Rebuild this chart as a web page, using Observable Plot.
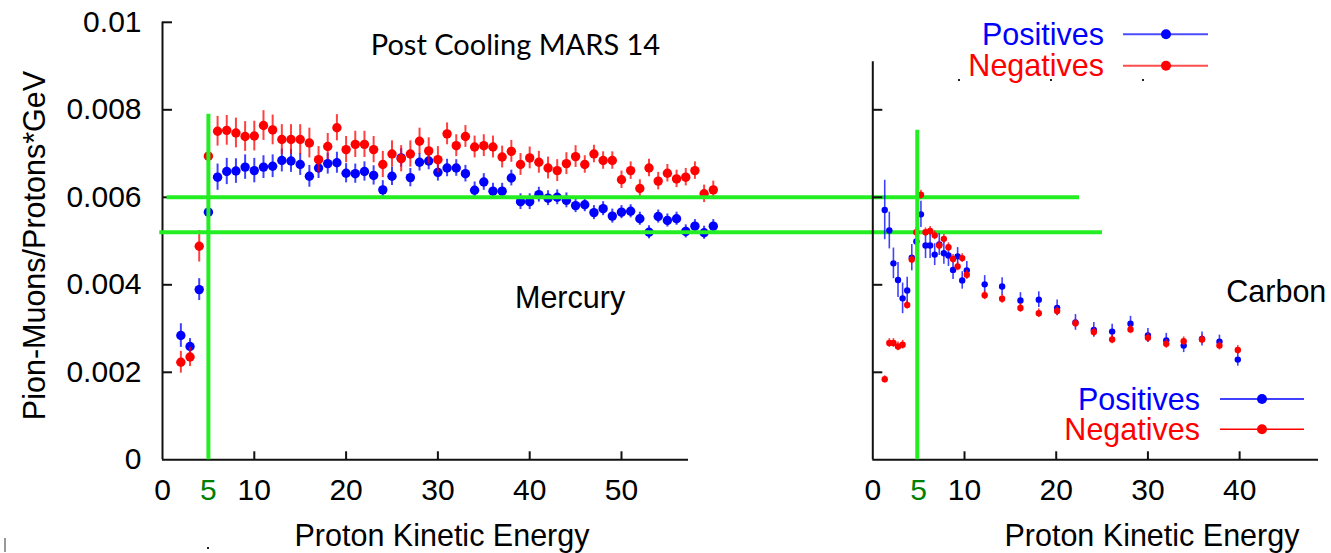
<!DOCTYPE html>
<html>
<head>
<meta charset="utf-8">
<script src="https://cdn.jsdelivr.net/npm/d3@7"></script>
<script src="https://cdn.jsdelivr.net/npm/@observablehq/plot@0.6"></script>
<style>
  html, body { margin: 0; padding: 0; background: #fff; }
  #chart { position: relative; width: 1331px; height: 553px; overflow: hidden; }
  #chart svg { position: absolute; left: 0; top: 0; }
</style>
</head>
<body>
<div id="chart"></div>
<script>
// ---- Mercury target: proton kinetic energy (GeV) and yields ----
const hgEnergy = [2,3,4,5,6,7,8,9,10,11,12,13,14,15,16,17,18,19,20,21,22,23,24,25,26,27,28,29,30,
  31,32,33,34,35,36,37,38,39,40,41,42,43,44,45,46,47,48,49,50,51,52,53,54,55,56,57,58,59,60];
const hgPositives = [0.00284,0.00259,0.00389,0.00566,0.00646,0.00659,0.00660,0.00669,0.00661,0.00669,
  0.00671,0.00684,0.00683,0.00675,0.00648,0.00667,0.00677,0.00679,0.00655,0.00654,0.00659,0.00650,
  0.00617,0.00648,0.00690,0.00645,0.00680,0.00683,0.00657,0.00667,0.00667,0.00654,0.00616,0.00635,
  0.00614,0.00614,0.00644,0.00590,0.00590,0.00606,0.00598,0.00600,0.00593,0.00581,0.00583,0.00565,
  0.00574,0.00557,0.00566,0.00568,0.00551,0.00520,0.00556,0.00547,0.00551,0.00522,0.00534,0.00519,0.00534];
const hgPositivesErr = [0.00027,0.00018,0.00025,0.00028,0.00030,0.00030,0.00028,0.00028,0.00028,0.00026,
  0.00026,0.00026,0.00026,0.00025,0.00025,0.00024,0.00024,0.00024,0.00022,0.00022,0.00022,0.00022,
  0.00021,0.00021,0.00021,0.00021,0.00020,0.00020,0.00020,0.00020,0.00019,0.00019,0.00019,0.00019,
  0.00018,0.00018,0.00018,0.00018,0.00018,0.00017,0.00017,0.00017,0.00017,0.00016,0.00016,0.00016,
  0.00016,0.00016,0.00015,0.00015,0.00015,0.00015,0.00015,0.00015,0.00015,0.00015,0.00015,0.00015,0.00015];
const hgNegatives = [0.00223,0.00235,0.00488,0.00694,0.00751,0.00753,0.00747,0.00739,0.00740,0.00764,
  0.00754,0.00732,0.00732,0.00732,0.00724,0.00686,0.00716,0.00759,0.00709,0.00721,0.00721,0.00709,
  0.00675,0.00699,0.00688,0.00699,0.00728,0.00706,0.00686,0.00745,0.00718,0.00739,0.00715,0.00718,
  0.00715,0.00692,0.00705,0.00675,0.00690,0.00680,0.00667,0.00661,0.00677,0.00693,0.00675,0.00699,
  0.00684,0.00684,0.00640,0.00661,0.00620,0.00667,0.00637,0.00655,0.00642,0.00646,0.00661,0.00608,0.00617];
const hgNegativesErr = [0.00025,0.00022,0.00036,0.00036,0.00034,0.00034,0.00034,0.00034,0.00034,0.00034,
  0.00034,0.00034,0.00034,0.00034,0.00034,0.00030,0.00030,0.00030,0.00030,0.00030,0.00030,0.00030,
  0.00030,0.00030,0.00030,0.00030,0.00030,0.00030,0.00030,0.00025,0.00025,0.00025,0.00025,0.00025,
  0.00025,0.00025,0.00025,0.00025,0.00025,0.00025,0.00025,0.00025,0.00025,0.00025,0.00020,0.00020,
  0.00020,0.00020,0.00020,0.00020,0.00020,0.00020,0.00020,0.00020,0.00020,0.00020,0.00020,0.00020,0.00020];

// ---- Carbon target ----
const cEnergy = [1.3,1.8,2.25,2.75,3.25,3.75,4.25,4.75,5.25,5.75,6.25,6.75,7.25,7.75,8.25,8.75,9.25,9.75,10.25,
  12.2,14.1,16.1,18.1,20.1,22.1,24.1,26.1,28.1,30.0,32.0,33.9,35.9,37.8,39.8];
const cPositives = [0.00571,0.00524,0.00449,0.00411,0.00369,0.00387,0.00462,0.00499,0.00561,0.00490,
  0.00490,0.00469,0.00492,0.00472,0.00467,0.00434,0.00465,0.00410,0.00433,
  0.00401,0.00396,0.00364,0.00366,0.00347,0.00314,0.00297,0.00293,0.00311,0.00284,0.00273,0.00261,
  0.00276,0.00270,0.00229];
const cPositivesErr = [0.00068,0.00042,0.00035,0.00040,0.00035,0.00030,0.00030,0.00030,0.00030,0.00030,
  0.00030,0.00025,0.00025,0.00025,0.00025,0.00022,0.00020,0.00020,0.00020,
  0.00020,0.00020,0.00018,0.00018,0.00018,0.00018,0.00017,0.00017,0.00017,0.00016,0.00016,0.00016,
  0.00016,0.00015,0.00015];
const cNegatives = [0.00184,0.00267,0.00267,0.00259,0.00263,0.00354,0.00458,0.00520,0.00606,0.00520,
  0.00523,0.00513,0.00490,0.00505,0.00486,0.00459,0.00442,0.00461,0.00423,
  0.00376,0.00368,0.00347,0.00335,0.00340,0.00312,0.00292,0.00275,0.00298,0.00279,0.00265,0.00271,
  0.00275,0.00261,0.00251];
const cNegativesErr = [0.00008,0.00010,0.00010,0.00010,0.00010,0.00010,0.00010,0.00010,0.00010,0.00010,
  0.00010,0.00010,0.00010,0.00010,0.00010,0.00010,0.00010,0.00010,0.00010,
  0.00010,0.00010,0.00010,0.00010,0.00010,0.00010,0.00010,0.00010,0.00010,0.00010,0.00010,0.00010,
  0.00010,0.00010,0.00010];

// ---- axes ----
const yTicks = [0, 0.002, 0.004, 0.006, 0.008, 0.01];
const yTickLabels = ["0", "0.002", "0.004", "0.006", "0.008", "0.01"];
const hgXTicks = [10, 20, 30, 40, 50];
const hgXLabels = ["10", "20", "30", "40", "50"];
const cXTicks = [10, 20, 30, 40];
const cXLabels = ["10", "20", "30", "40"];

// reference guides: energy cut at 5 GeV and yield levels
const guideEnergy = 5;
const guideLevels = [0.006, 0.0052];

const BLUE = "#0000ff", RED = "#ff0000", GUIDE = "#22ee22", DKGREEN = "#008000", AXIS = "#111";
const FONT = "'Liberation Sans', Arial, sans-serif";
const W = 1331, H = 553;
const frameTop = 21.8, frameBottom = 459.3;
const frameH = frameBottom - frameTop;
const TICK_FS = 30, TITLE_FS = 30.5;

const rows = (e, v, err) => e.map((x, i) => ({x, y: v[i], lo: v[i] - err[i], hi: v[i] + err[i]}));

function panel({left, right, xMax, pos, neg, r, barW, xTicks, xLabels, yAxisTop, guideX, guideTop, extra}) {
  const frameW = right - left;
  return Plot.plot({
    width: W, height: H,
    marginLeft: left, marginRight: W - right, marginTop: frameTop, marginBottom: H - frameBottom,
    x: {domain: [0, xMax], axis: null},
    y: {domain: [0, 0.01], axis: null},
    style: {background: "transparent", fontFamily: FONT, overflow: "visible"},
    marks: [
      Plot.ruleX(pos, {x: "x", y1: "lo", y2: "hi", stroke: BLUE, strokeWidth: barW, strokeOpacity: 0.75}),
      Plot.dot(pos, {x: "x", y: "y", r, fill: BLUE}),
      Plot.ruleX(neg, {x: "x", y1: "lo", y2: "hi", stroke: RED, strokeWidth: barW, strokeOpacity: 0.75}),
      Plot.dot(neg, {x: "x", y: "y", r, fill: RED}),
      // frame lines and inward ticks
      Plot.ruleX([0], {y1: 0, y2: yAxisTop, stroke: AXIS, strokeWidth: 2}),
      Plot.ruleY([0], {stroke: AXIS, strokeWidth: 2}),
      Plot.tickY(yTicks.filter(d => d > 0 && d <= yAxisTop), {y: d => d, insetRight: frameW - 10, stroke: AXIS, strokeWidth: 2}),
      Plot.tickX(xTicks, {x: d => d, insetTop: frameH - 8, stroke: AXIS, strokeWidth: 2}),
      // tick labels
      Plot.text([0, ...xTicks], {x: d => d, text: ["0", ...xLabels], frameAnchor: "bottom", dy: 40.5, fontSize: TICK_FS}),
      Plot.text([guideEnergy], {x: d => d, text: ["5"], frameAnchor: "bottom", dy: 40.5, fontSize: TICK_FS, fill: DKGREEN}),
      Plot.text(["Proton Kinetic Energy"], {frameAnchor: "bottom", dx: extra.titleDx, dy: 86, fontSize: TITLE_FS}),
      ...extra.marks,
      // guides
      Plot.ruleX([guideX], {y1: 0, y2: guideTop, stroke: GUIDE, strokeWidth: 4})
    ]
  });
}

const mercury = panel({
  left: 162, right: 688, xMax: 57.3,
  pos: rows(hgEnergy, hgPositives, hgPositivesErr),
  neg: rows(hgEnergy, hgNegatives, hgNegativesErr),
  r: 4.7, barW: 2, xTicks: hgXTicks, xLabels: hgXLabels, yAxisTop: 0.01,
  guideX: guideEnergy, guideTop: 0.0079,
  extra: {
    titleDx: 16.5,
    marks: [
      Plot.text(yTicks, {y: d => d, text: yTickLabels, frameAnchor: "left", dx: -21, textAnchor: "end", fontSize: TICK_FS}),
      Plot.text(["Pion-Muons/Protons*GeV"], {frameAnchor: "left", textAnchor: "middle", dx: -127, dy: 4.5, rotate: -90, fontSize: TITLE_FS}),
      Plot.text([{x: 38.45, y: 0.00947}], {x: "x", y: "y", text: () => "Post Cooling MARS 14", fontSize: 29, fontFamily: "Lato, 'Open Sans', sans-serif"}),
      Plot.text([{x: 44.4, y: 0.00369}], {x: "x", y: "y", text: () => "Mercury", fontSize: TITLE_FS}),
      Plot.ruleY([{y: guideLevels[0], x1: 0.5, x2: 99.9}], {y: "y", x1: "x1", x2: "x2", stroke: GUIDE, strokeWidth: 4}),
      Plot.ruleY([{y: guideLevels[1], x1: -0.3, x2: 102.4}], {y: "y", x1: "x1", x2: "x2", stroke: GUIDE, strokeWidth: 4})
    ]
  }
});

const carbon = panel({
  left: 872.3, right: 1318, xMax: 48.6,
  pos: rows(cEnergy, cPositives, cPositivesErr),
  neg: rows(cEnergy, cNegatives, cNegativesErr),
  r: 3.2, barW: 1.6, xTicks: cXTicks, xLabels: cXLabels, yAxisTop: 0.0091,
  guideX: 4.85, guideTop: 0.00753,
  extra: {
    titleDx: 56.3,
    marks: [
      Plot.text([{x: 44.0, y: 0.00382}], {x: "x", y: "y", text: () => "Carbon", fontSize: TITLE_FS})
    ]
  }
});

const chart = document.getElementById("chart");
chart.append(mercury, carbon);

// ---- series keys ----
const keys = [
  {label: "Positives", color: BLUE},
  {label: "Negatives", color: RED}
];
const legendBlocks = [
  {textEnd: 1104, x1: 1123, x2: 1208, dot: 1166, ys: [34.3, 65.7], width: 2, opacity: 0.7},
  {textEnd: 1200, x1: 1220, x2: 1304, dot: 1262, ys: [399, 429.3], width: 1.5, opacity: 1}
];
const overlay = d3.create("svg").attr("width", W).attr("height", H).style("font-family", FONT);
for (const b of legendBlocks) {
  keys.forEach((k, i) => {
    const g = overlay.append("g");
    g.append("text").attr("x", b.textEnd).attr("y", b.ys[i]).attr("dy", "0.35em")
      .attr("text-anchor", "end").attr("font-size", 30.5).attr("fill", k.color).text(k.label);
    g.append("line").attr("x1", b.x1).attr("x2", b.x2).attr("y1", b.ys[i]).attr("y2", b.ys[i])
      .attr("stroke", k.color).attr("stroke-width", b.width).attr("stroke-opacity", b.opacity);
    g.append("circle").attr("cx", b.dot).attr("cy", b.ys[i]).attr("r", 5).attr("fill", k.color);
  });
}
// stray printer marks along the edges
overlay.append("line").attr("x1", 5).attr("x2", 5).attr("y1", 538).attr("y2", 552).attr("stroke", "#333").attr("stroke-width", 1);
for (const [x, y] of [[208, 548], [959, 80], [1051, 80], [1143, 80]]) {
  overlay.append("rect").attr("x", x - 1).attr("y", y - 1).attr("width", 2).attr("height", 2).attr("fill", "#222");
}
chart.append(overlay.node());
</script>
</body>
</html>
